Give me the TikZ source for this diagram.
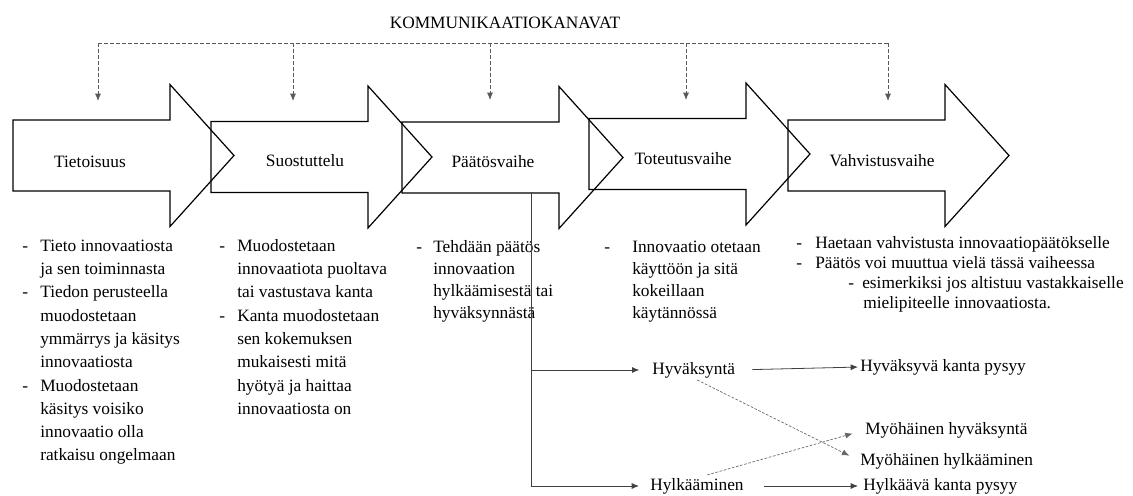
\documentclass[tikz,border=0pt]{standalone}
\usepackage{fontspec}
\setmainfont{Liberation Serif}
\usetikzlibrary{arrows.meta}

\newcommand{\phasearrow}[2]{%
  \draw[phase] (#1,#2-35.5) -- (#1+157,#2-35.5) -- (#1+157,#2-71) -- (#1+221,#2)
    -- (#1+157,#2+71) -- (#1+157,#2+35.5) -- (#1,#2+35.5) -- cycle;}
\newcommand{\viiva}[1]{\makebox[#1][l]{-}}

\begin{document}
\begin{tikzpicture}[x=0.75pt,y=-0.75pt,>={Latex[length=5.5pt,width=4.5pt]},
    phase/.style={line width=0.9pt,line join=miter},
    comm/.style={black!65,line width=0.6pt,dash pattern=on 3pt off 1.5pt},
    branch/.style={black!75,line width=0.6pt},
    late/.style={black!60,line width=0.5pt,dash pattern=on 2pt off 1.2pt},
    phasetext/.style={font=\fontsize{13}{17.5}\selectfont,inner sep=0pt},
    listtext/.style={inner sep=0pt,anchor=base west},
    outcome/.style={font=\fontsize{13}{17.5}\selectfont,inner sep=0pt,anchor=west}]
		\useasboundingbox (0,0) rectangle (1133,496);

		\phasearrow{13}{155.5}
		\phasearrow{211}{157}
		\phasearrow{402}{157.5}
		\phasearrow{589}{154}
		\phasearrow{788}{155.5}

		\node[phasetext,anchor=base] (kanavat) at (505,28) {KOMMUNIKAATIOKANAVAT};
		\node[phasetext,anchor=base] (tietoisuus) at (90,167) {Tietoisuus};
		\node[phasetext,anchor=base] (suostuttelu) at (305,166) {Suostuttelu};
		\node[phasetext,anchor=base] (paatos) at (493,167) {Päätösvaihe};
		\node[phasetext,anchor=base] (toteutus) at (683,164) {Toteutusvaihe};
		\node[phasetext,anchor=base] (vahvistus) at (882,166) {Vahvistusvaihe};

		\coordinate (vayla1) at (98,43);
		\coordinate (vayla2) at (293,43);
		\coordinate (vayla3) at (490,43);
		\coordinate (vayla4) at (686,43);
		\coordinate (vayla5) at (888,43);
		\coordinate (kohde1) at (98,101);
		\coordinate (kohde2) at (293,101);
		\coordinate (kohde3) at (490,100);
		\coordinate (kohde4) at (686,100);
		\coordinate (kohde5) at (888,101);
		\draw[comm] (vayla1) -- (vayla5);
		\draw[comm,->] (vayla1) -- (kohde1);
		\draw[comm,->] (vayla2) -- (kohde2);
		\draw[comm,->] (vayla3) -- (kohde3);
		\draw[comm,->] (vayla4) -- (kohde4);
		\draw[comm,->] (vayla5) -- (kohde5);

		\node[listtext,font=\fontsize{13}{17.5}\selectfont] (tietoisuuslista) at (22,251) {\begin{tabular}[t]{@{}l@{}l@{}}
			\viiva{13.5pt} & Tieto innovaatiosta\\
			 & ja sen toiminnasta\\
			\viiva{13.5pt} & Tiedon perusteella\\
			 & muodostetaan\\
			 & ymmärrys ja käsitys\\
			 & innovaatiosta\\
			\viiva{13.5pt} & Muodostetaan\\
			 & käsitys voisiko\\
			 & innovaatio olla\\
			 & ratkaisu ongelmaan
		\end{tabular}};
		\node[listtext,font=\fontsize{13}{17.5}\selectfont] (suostuttelulista) at (219,251) {\begin{tabular}[t]{@{}l@{}l@{}}
			\viiva{13.5pt} & Muodostetaan\\
			 & innovaatiota puoltava\\
			 & tai vastustava kanta\\
			\viiva{13.5pt} & Kanta muodostetaan\\
			 & sen kokemuksen\\
			 & mukaisesti mitä\\
			 & hyötyä ja haittaa\\
			 & innovaatiosta on
		\end{tabular}};
		\node[listtext,font=\fontsize{13}{16.7}\selectfont] (paatoslista) at (416,252) {\begin{tabular}[t]{@{}l@{}l@{}}
			\viiva{12.75pt} & Tehdään päätös\\
			 & innovaation\\
			 & hylkäämisestä tai\\
			 & hyväksynnästä
		\end{tabular}};
		\node[listtext,font=\fontsize{13}{16.7}\selectfont] (toteutuslista) at (604,252) {\begin{tabular}[t]{@{}l@{}l@{}}
			\viiva{21pt} & Innovaatio otetaan\\
			 & käyttöön ja sitä\\
			 & kokeillaan\\
			 & käytännössä
		\end{tabular}};
		\node[listtext,font=\fontsize{13}{15}\selectfont] (vahvistuslista) at (796,248) {\begin{tabular}[t]{@{}l@{}l@{}}
			\viiva{14.25pt} & Haetaan vahvistusta innovaatiopäätökselle\\
			\viiva{14.25pt} & Päätös voi muuttua vielä tässä vaiheessa\\
			 & \hspace*{24.75pt}\viiva{10.5pt}esimerkiksi jos altistuu vastakkaiselle\\
			 & \hspace*{36pt}mielipiteelle innovaatiosta.
		\end{tabular}};

		\coordinate (haara) at (531,192);
		\node[outcome] (hyv) at (652,370) {Hyväksyntä};
		\node[outcome] (hyl) at (650,486) {Hylkääminen};
		\node[outcome] (hyvpysyy) at (860,367) {Hyväksyvä kanta pysyy};
		\node[outcome] (myohyv) at (865,430) {Myöhäinen hyväksyntä};
		\node[outcome] (myohyl) at (860,461) {Myöhäinen hylkääminen};
		\node[outcome] (hylpysyy) at (863,486) {Hylkäävä kanta pysyy};

		\draw[branch,->,shorten >=9.5pt] (haara) |- (hyv.west);
		\draw[branch,->,shorten >=8.25pt] (haara) |- (hyl.west);
		\draw[branch,->,shorten <=12.75pt,shorten >=1.5pt] (hyv.east) -- (hyvpysyy.west);
		\draw[branch,->,shorten <=15pt,shorten >=3.75pt] (hyl.east) -- (hylpysyy.west);
		\draw[late,->,shorten <=3pt,shorten >=9pt] (hyv.south) -- (myohyl.west);
		\draw[late,->,shorten <=8pt,shorten >=9.75pt] (hyl.north) -- (myohyv.west);
\end{tikzpicture}
\end{document}
